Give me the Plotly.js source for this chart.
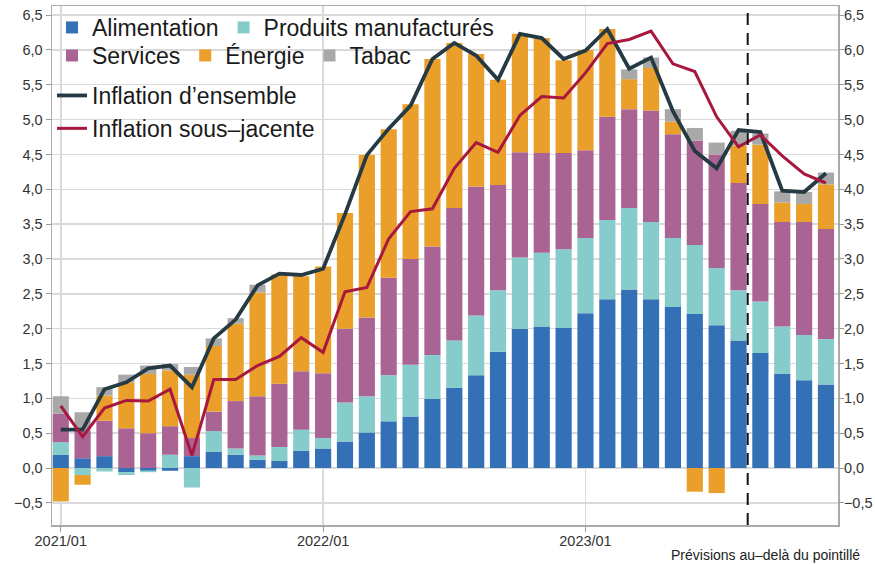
<!DOCTYPE html>
<html>
<head>
<meta charset="utf-8">
<script src="https://cdn.plot.ly/plotly-3.0.1.min.js"></script>
<style>html,body{margin:0;padding:0;background:#fff;}#chart{width:875px;height:564px;}</style>
</head>
<body>
<div id="chart"></div>
<script>
const months = ['2021/01','2021/02','2021/03','2021/04','2021/05','2021/06','2021/07','2021/08','2021/09','2021/10','2021/11','2021/12',
  '2022/01','2022/02','2022/03','2022/04','2022/05','2022/06','2022/07','2022/08','2022/09','2022/10','2022/11','2022/12',
  '2023/01','2023/02','2023/03','2023/04','2023/05','2023/06','2023/07','2023/08','2023/09','2023/10','2023/11','2023/12'];
const tickLabels = ['2021/01','2022/01','2023/01'];

const alimentation = [0.19,0.14,0.17,-0.06,-0.04,-0.04,0.17,0.23,0.19,0.12,0.10,0.25,0.28,0.38,0.51,0.67,0.74,0.99,1.15,1.33,1.67,2.00,2.03,2.01,2.22,2.42,2.56,2.42,2.31,2.21,2.05,1.83,1.65,1.35,1.26,1.20];
const produits = [0.18,-0.10,-0.05,-0.04,-0.02,0.19,-0.28,0.30,0.09,0.06,0.20,0.30,0.15,0.56,0.52,0.66,0.74,0.63,0.68,0.86,0.88,1.02,1.06,1.13,1.08,1.14,1.17,1.11,0.99,0.99,0.82,0.72,0.74,0.68,0.65,0.65];
const services = [0.41,0.39,0.51,0.57,0.50,0.41,0.26,0.28,0.68,0.85,0.91,0.84,0.93,1.06,1.13,1.40,1.52,1.56,1.90,1.85,1.51,1.51,1.43,1.38,1.26,1.48,1.42,1.60,1.49,1.50,1.63,1.54,1.40,1.50,1.62,1.58];
const energie = [-0.48,-0.14,0.36,0.66,0.85,0.80,0.91,0.94,1.11,1.49,1.57,1.36,1.53,1.66,2.33,2.13,2.22,2.69,2.37,1.90,1.51,1.70,1.65,1.33,1.44,1.26,0.43,0.61,0.18,-0.34,-0.36,0.54,0.85,0.28,0.26,0.64];
const tabac = [0.25,0.27,0.12,0.11,0.12,0.09,0.11,0.11,0.08,0.11,0,0,0,0,0,0,0,0,0,0,0,0,0,0,0,0,0.14,0.15,0.18,0.18,0.17,0.21,0.16,0.16,0.17,0.17];
const ensemble = [0.55,0.55,1.13,1.23,1.43,1.47,1.16,1.86,2.13,2.62,2.79,2.77,2.86,3.64,4.49,4.87,5.20,5.87,6.10,5.92,5.57,6.23,6.17,5.87,5.99,6.30,5.73,5.89,5.12,4.55,4.30,4.85,4.82,3.98,3.96,4.23];
const sousJacente = [0.89,0.45,0.86,0.97,0.96,1.13,0.18,1.27,1.27,1.47,1.60,1.87,1.66,2.53,2.59,3.29,3.68,3.72,4.30,4.67,4.53,5.06,5.33,5.31,5.67,6.09,6.15,6.27,5.80,5.69,5.04,4.61,4.78,4.48,4.22,4.09];

const FONT = 'Liberation Sans, Arial, sans-serif';
function bar(name, y, color, legend) {
  return {type:'bar', name:name, x:months, y:y, marker:{color:color}, legend:legend, hoverinfo:'skip'};
}
const traces = [
  bar('Alimentation', alimentation, '#3470b6', 'legend'),
  bar('Produits manufacturés', produits, '#86cccb', 'legend'),
  bar('Services', services, '#a96494', 'legend2'),
  bar('Énergie', energie, '#e99f2a', 'legend2'),
  bar('Tabac', tabac, '#a8a8a8', 'legend2'),
  {type:'scatter', mode:'lines', name:'Inflation d’ensemble', x:months, y:ensemble, line:{color:'#263a44', width:3.8}, legend:'legend3', hoverinfo:'skip'},
  {type:'scatter', mode:'lines', name:'Inflation sous–jacente', x:months, y:sousJacente, line:{color:'#a8183e', width:3}, legend:'legend3', hoverinfo:'skip'},
  {type:'scatter', mode:'lines', x:months, y:ensemble, yaxis:'y2', opacity:0, showlegend:false, hoverinfo:'skip', line:{width:0}}
];

const yr = [-0.818, 6.63];
const gridC = '#dadada';
const tf = {size:14.5, color:'#333'};
const layout = {
  width:875, height:564,
  margin:{l:52, r:37, t:6, b:39},
  paper_bgcolor:'#fff', plot_bgcolor:'#fff',
  font:{family:FONT, color:'#333', size:15},
  separators:', ',
  barmode:'relative', bargap:0.26,
  xaxis:{type:'category', range:[-0.4, 35.55], tickvals:tickLabels, ticktext:tickLabels,
    showgrid:true, gridcolor:gridC, gridwidth:1.5, ticks:'outside', ticklen:5, tickcolor:'#999', ticklabelstandoff:-3,
    showline:true, linecolor:'#aaa', linewidth:1.5, mirror:true, tickfont:tf},
  yaxis:{range:yr, dtick:0.5, tick0:0, tickformat:'.1f', showgrid:true, gridcolor:gridC, gridwidth:1.5,
    zeroline:false, ticks:'outside', ticklen:5, tickcolor:'#999', showline:true, linecolor:'#aaa', linewidth:1.5,
    mirror:true, tickfont:tf},
  yaxis2:{range:yr, dtick:0.5, tick0:0, tickformat:'.1f', overlaying:'y', side:'right', anchor:'x', showgrid:false,
    zeroline:false, ticks:'outside', ticklen:5, tickcolor:'#999', showline:false, ticklabelstandoff:-3, tickfont:tf},
  legend:{orientation:'h', x:0, xanchor:'left', y:1.0, yanchor:'top', bgcolor:'rgba(0,0,0,0)', font:{size:23, color:'#1a1a1a'}},
  legend2:{orientation:'h', x:0, xanchor:'left', y:0.946, yanchor:'top', bgcolor:'rgba(0,0,0,0)', font:{size:23, color:'#1a1a1a'}},
  legend3:{orientation:'v', x:0, xanchor:'left', y:0.869, yanchor:'top', bgcolor:'rgba(0,0,0,0)', font:{size:23, color:'#1a1a1a'}, tracegroupgap:0},
  shapes:[{type:'line', xref:'x', yref:'paper', x0:31.42, x1:31.42, y0:0, y1:1, line:{color:'#111', width:2, dash:'12px,8px'}}],
  annotations:[{xref:'paper', yref:'paper', x:1.0305, y:-0.058, xanchor:'right', yanchor:'middle', showarrow:false,
    text:'Prévisions au–delà du pointillé', font:{size:14, color:'#222'}}]
};
Plotly.newPlot('chart', traces, layout, {displayModeBar:false, staticPlot:true});
</script>
</body>
</html>
